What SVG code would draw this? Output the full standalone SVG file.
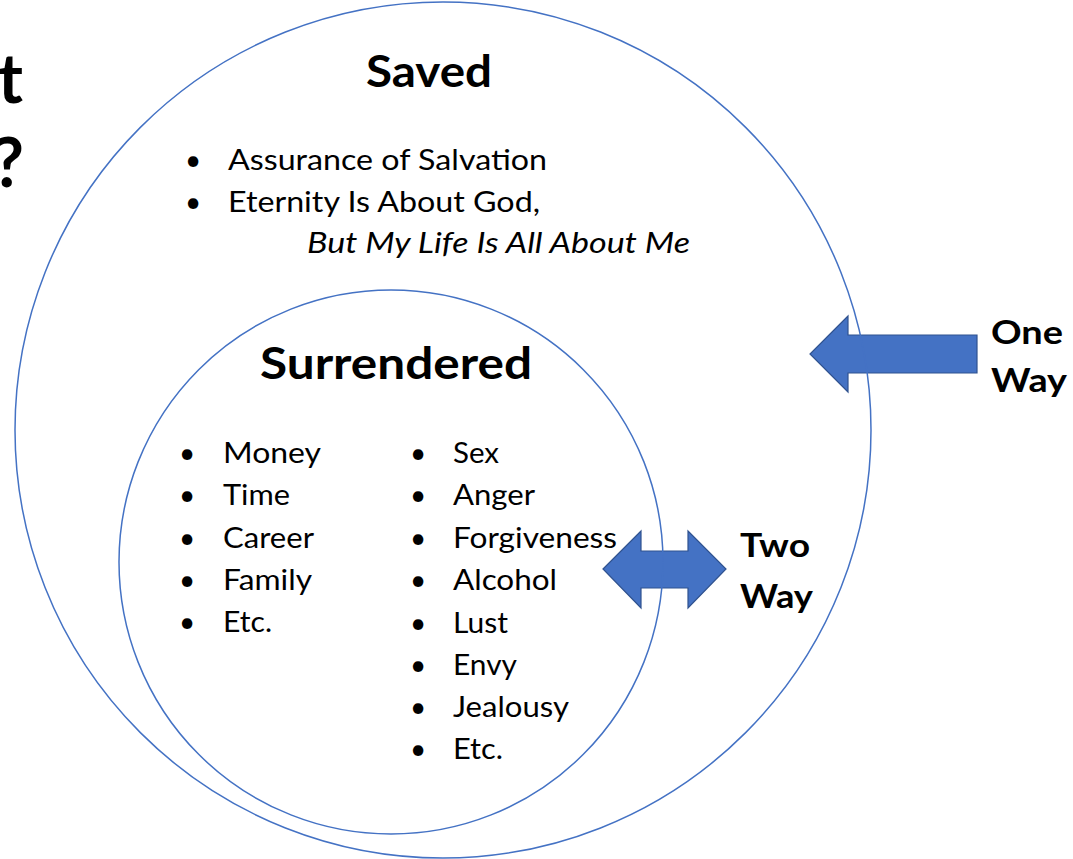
<svg xmlns="http://www.w3.org/2000/svg" width="1073" height="859" viewBox="0 0 1073 859">
<style>
.t{font-family:Lato,"Liberation Sans",Arial,sans-serif;fill:#000}
.h{font-weight:bold;font-size:44px}
.b{font-size:28px}
.lbl{font-weight:bold;font-size:33px}
.ring{fill:none;stroke:#4472C4;stroke-width:1.5}
.arr{fill:#4472C4;stroke:#2F528F;stroke-width:1.2;stroke-linejoin:miter}
</style>
<rect width="1073" height="859" fill="#ffffff"/>
<g id="title-fragment">
<text class="t" x="23" y="103" font-size="68" font-weight="bold" text-anchor="end">t</text>
<text class="t" x="24" y="187" font-size="68" font-weight="bold" text-anchor="end">?</text>
</g>
<g id="connectors">
<path id="one-way-arrow" class="arr" d="M977,335 L848,335 L848,316 L810,354 L848,392 L848,373 L977,373 Z"/>
<path id="two-way-arrow" class="arr" d="M603,569 L641,531 L641,551 L688,551 L688,531 L726,569 L688,608 L688,588 L641,588 L641,608 Z"/>
</g>
<g id="saved">
<circle class="ring" cx="443" cy="430" r="428"/>
<text class="t h" x="366" y="87" textLength="126" lengthAdjust="spacingAndGlyphs">Saved</text>
<text class="t b" x="193" y="170" text-anchor="middle">•</text>
<text class="t b" x="228" y="170" textLength="319" lengthAdjust="spacingAndGlyphs">Assurance of Salvation</text>
<text class="t b" x="193" y="212" text-anchor="middle">•</text>
<text class="t b" x="228" y="212" textLength="312" lengthAdjust="spacingAndGlyphs">Eternity Is About God,</text>
<text class="t b" x="307" y="253" font-style="italic" textLength="383" lengthAdjust="spacingAndGlyphs">But My Life Is All About Me</text>
</g>
<g id="surrendered">
<circle class="ring" cx="391" cy="562" r="272"/>
<text class="t h" x="260" y="379" textLength="272" lengthAdjust="spacingAndGlyphs">Surrendered</text>
<g class="t b">
<text x="187" y="463" text-anchor="middle">•</text><text x="223" y="463" textLength="98" lengthAdjust="spacingAndGlyphs">Money</text>
<text x="187" y="505" text-anchor="middle">•</text><text x="223" y="505" textLength="67" lengthAdjust="spacingAndGlyphs">Time</text>
<text x="187" y="548" text-anchor="middle">•</text><text x="223" y="548" textLength="91" lengthAdjust="spacingAndGlyphs">Career</text>
<text x="187" y="590" text-anchor="middle">•</text><text x="223" y="590" textLength="89" lengthAdjust="spacingAndGlyphs">Family</text>
<text x="187" y="632" text-anchor="middle">•</text><text x="223" y="632" textLength="49" lengthAdjust="spacingAndGlyphs">Etc.</text>
<text x="418" y="463" text-anchor="middle">•</text><text x="453" y="463" textLength="46" lengthAdjust="spacingAndGlyphs">Sex</text>
<text x="418" y="505" text-anchor="middle">•</text><text x="453" y="505" textLength="82" lengthAdjust="spacingAndGlyphs">Anger</text>
<text x="418" y="548" text-anchor="middle">•</text><text x="453" y="548" textLength="164" lengthAdjust="spacingAndGlyphs">Forgiveness</text>
<text x="418" y="590" text-anchor="middle">•</text><text x="453" y="590" textLength="104" lengthAdjust="spacingAndGlyphs">Alcohol</text>
<text x="418" y="633" text-anchor="middle">•</text><text x="453" y="633" textLength="55" lengthAdjust="spacingAndGlyphs">Lust</text>
<text x="418" y="675" text-anchor="middle">•</text><text x="453" y="675" textLength="64" lengthAdjust="spacingAndGlyphs">Envy</text>
<text x="418" y="717" text-anchor="middle">•</text><text x="453" y="717" textLength="116" lengthAdjust="spacingAndGlyphs">Jealousy</text>
<text x="418" y="759" text-anchor="middle">•</text><text x="453" y="759" textLength="50" lengthAdjust="spacingAndGlyphs">Etc.</text>
</g>
</g>
<g id="one-way-label">
<text class="t lbl" x="991" y="344" textLength="72" lengthAdjust="spacingAndGlyphs">One</text>
<text class="t lbl" x="991" y="392" textLength="76" lengthAdjust="spacingAndGlyphs">Way</text>
</g>
<g id="two-way-label">
<text class="t lbl" x="740" y="557" textLength="70" lengthAdjust="spacingAndGlyphs">Two</text>
<text class="t lbl" x="740" y="608" textLength="73" lengthAdjust="spacingAndGlyphs">Way</text>
</g>
</svg>
